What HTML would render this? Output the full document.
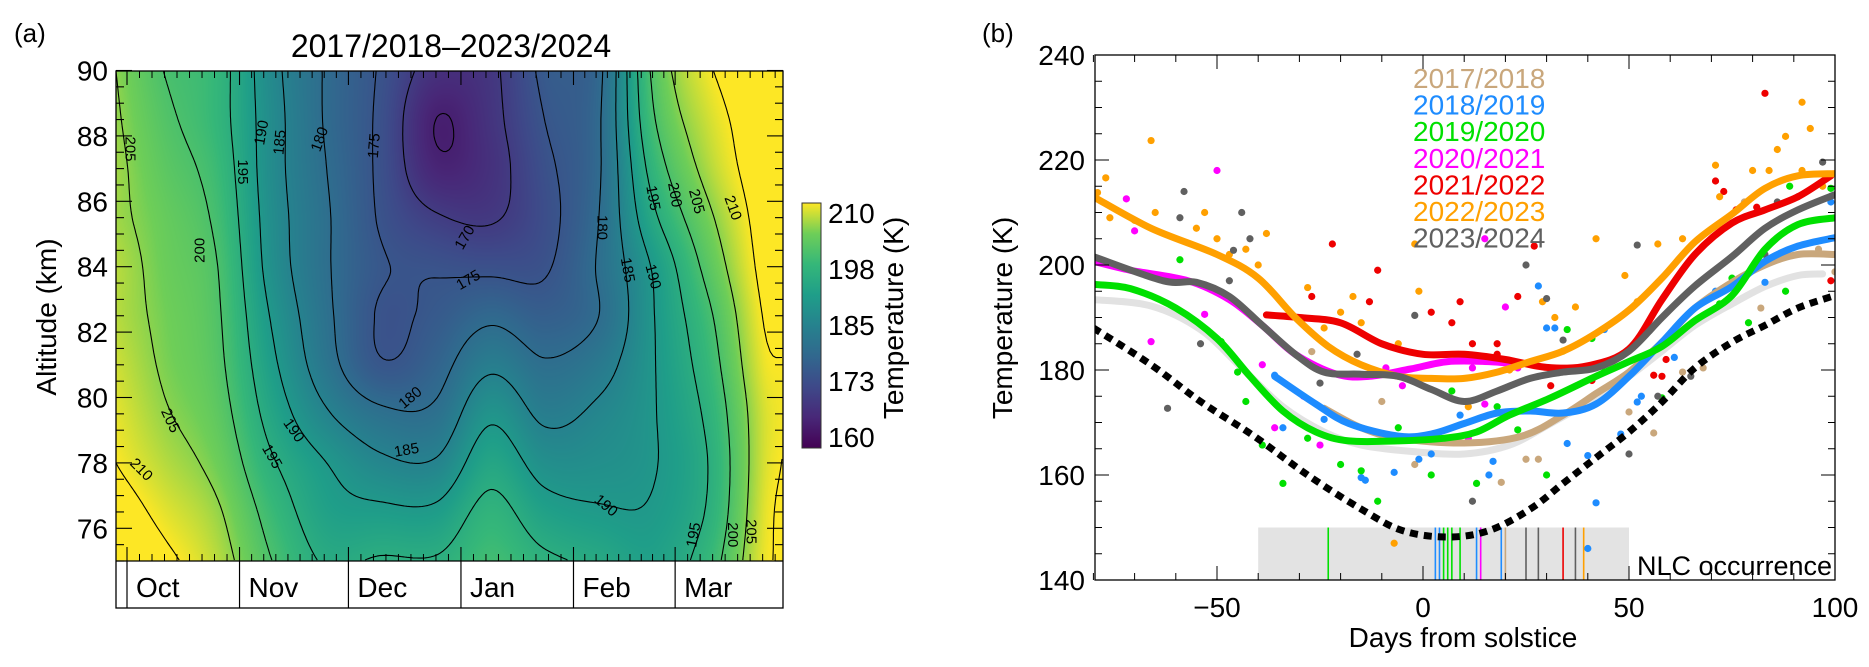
<!DOCTYPE html>
<html><head><meta charset="utf-8">
<style>
html,body{margin:0;padding:0;background:#fff;}
#wrap{position:relative;width:1869px;height:667px;overflow:hidden;font-family:"Liberation Sans",sans-serif;}
#heat{position:absolute;left:116px;top:71px;}
#svg{position:absolute;left:0;top:0;}
text{font-family:"Liberation Sans",sans-serif;}
</style></head>
<body>
<div id="wrap">
<canvas id="heat" width="667" height="490"></canvas>
<svg id="svg" width="1869" height="667" xmlns="http://www.w3.org/2000/svg">
<defs>
<linearGradient id="vir" x1="0" y1="1" x2="0" y2="0">
<stop offset="0" stop-color="#440154"/><stop offset="0.125" stop-color="#482878"/><stop offset="0.25" stop-color="#3e4989"/><stop offset="0.375" stop-color="#31688e"/><stop offset="0.5" stop-color="#26828e"/><stop offset="0.625" stop-color="#1f9e89"/><stop offset="0.75" stop-color="#35b779"/><stop offset="0.875" stop-color="#6ece58"/><stop offset="1" stop-color="#fde725"/>
</linearGradient>
<clipPath id="clipL"><rect x="116" y="71" width="667" height="490"/></clipPath>
<clipPath id="clipR"><rect x="1095" y="55" width="740" height="525"/></clipPath>
</defs>
<text x="14" y="42" font-size="26">(a)</text>
<text x="451" y="57" font-size="32" text-anchor="middle">2017/2018–2023/2024</text>
<g id="contours" clip-path="url(#clipL)"></g>
<g id="clabels"></g>
<g id="leftAxes"></g>
<text transform="translate(56,317) rotate(-90)" font-size="28" text-anchor="middle">Altitude (km)</text>
<rect x="802" y="203" width="19" height="245" fill="url(#vir)" stroke="#333" stroke-width="1"/>
<g id="cbar"></g>
<text transform="translate(903,318) rotate(-90)" font-size="28" text-anchor="middle">Temperature (K)</text>

<text x="982" y="42" font-size="26">(b)</text>
<g id="rplot" clip-path="url(#clipR)"></g>
<g id="rightAxes"></g>
<text transform="translate(1012,318) rotate(-90)" font-size="28" text-anchor="middle">Temperature (K)</text>
<text x="1463" y="647" font-size="28" text-anchor="middle">Days from solstice</text>
<text x="1637" y="575" font-size="27">NLC occurrence</text>
<g id="legend"></g>
</svg>
</div>
<script>
// ---------- Panel (a) data ----------
const gridDays=[-3,10,25,40,55,70,85,100,115,130,145,160,175,182];
const gridAlts=[75,76.5,78,79.5,81,82.5,84,85.5,87,88.5,90];
const tempCols=[
[213,212,210,209,208,207,207,206,206,205.5,205],
[211,209,207,205.5,204.5,204,203.5,203,202,201,200],
[207,205.5,203.5,202,201,200.5,200,199,198,197,197],
[200,198,195.5,193,191,189.5,188,187.5,187,187,186.5],
[194.5,192,190,185.5,182,181,180.5,180.5,180,179.5,179.5],
[195.5,191,186,181,175.4,174.6,175.4,174.5,174,174,174.5],
[195.5,191,185.5,181,178,176,174.5,170.5,166,165,168],
[199,196.5,193,189,184,179,174,169.5,168,168.5,169],
[196,192,188,184,180.5,177,174.5,173.5,174,175,176],
[194,190.5,188,186,183,180,180.5,180,179.5,179.5,179],
[192,190.5,189.7,189.7,189.7,189.8,190.5,194,197,199.5,201],
[197.5,195.5,195,196,197.5,199,201.5,204,206.5,208,209.5],
[209,208.5,208,208,209,210,211,211.5,212,212,212],
[210.5,211,210.5,210,210,211,212,212,212.5,212.5,212.5]];
const contourLevels=[165,170,175,180,185,190,195,200,205,210];
const monthNames=["Oct","Nov","Dec","Jan","Feb","Mar"];
const monthStarts=[0,31,61,92,123,151];
const altTicks=[76,78,80,82,84,86,88,90];
const cbarLabels=["210","198","185","173","160"];
const contourLabelText=["205","195","190","185","180","175","200","170","175","180","195","200","205","210","185","190","180","185","190","195","205","210","190","195","200","205"];
const contourLabelDay=[1,32,37,42,53,68,20,93,94,131,145,151,157,167,138,145,78,77,46,40,12,4,132,156,167,172];
const contourLabelAlt=[87.6,86.9,88.1,87.8,87.9,87.7,84.5,84.9,83.6,85.2,86.1,86.2,86.0,85.8,83.9,83.7,80.0,78.4,79.0,78.2,79.3,77.8,76.7,75.8,75.8,75.9];
const contourLabelRot=[90,90,-80,-85,-70,-85,-90,-60,-30,90,80,80,75,70,80,75,-40,-10,55,60,65,45,40,-80,90,90];

// ---------- Panel (b) data ----------
const legendYears=["2017/2018","2018/2019","2019/2020","2020/2021","2021/2022","2022/2023","2023/2024"];
const seriesColors=["#c9a77c","#1e8cff","#00e000","#ff00ff","#ee0000","#ffa000","#606060"];
const tanDays=[-24,-15,-6,10,24,34,42,50,58,66,75,83,91,100];
const tanTemps=[172.7,169,167,166.1,167.4,171.4,175.5,179.6,185.3,191.8,196.7,200,202,202];
const blueDays=[-36,-26,-18,-6,2,10,18,26,34,42,50,58,66,75,83,91,100];
const blueTemps=[178.8,173.5,169.8,167.4,167.8,169.8,171.8,172.2,171.8,173.5,178.8,185.3,191.8,195.9,200.7,203.6,205.2];
const greenDays=[-80,-71,-60,-50,-42,-34,-26,-18,-6,5,13,21,31,42,50,58,66,75,83,91,100];
const greenTemps=[196.3,195.5,191.8,186,178.8,172.2,168.2,166.5,166.5,167,168.2,171.4,174.7,178.8,181.6,184.5,189.4,194.2,203,207.7,209];
const magentaDays=[-80,-71,-57,-47,-39,-31,-21,-13,-3,6,16,22];
const magentaTemps=[200.7,199,197,193.4,188.5,183,179.2,178.8,180.2,181.6,181.6,181.2];
const redDays=[-38,-30,-20,-10,0,10,20,30,40,50,58,66,75,83,91,99];
const redTemps=[190.5,190,189,185,183,183,182,180.5,180.8,184,193.4,202,208,210.5,213,217];
const orangeDays=[-80,-66,-50,-40,-31,-23,-15,-6,2,10,18,26,34,42,50,58,66,75,83,91,100];
const orangeTemps=[213,207,202,197.5,190,184.5,181,178.8,178.4,178.4,179.6,181.6,183.6,187,191.4,197.5,204.4,209.7,214.6,217,217.4];
const grayDays=[-80,-63,-55,-47,-39,-31,-24,-15,-6,2,10,18,26,34,42,50,58,66,75,83,91,100];
const grayTemps=[201.6,197,196.7,194,188.5,183,179.6,179.2,178.8,176.3,174,176,178.4,179.6,180.4,183.6,190,196,201.6,207,210.5,213.4];
const meanDays=[-80,-66,-54,-44,-34,-24,-15,-3,10,21,31,42,50,58,66,75,83,91,97];
const meanTemps=[193.4,192.2,187.7,180.4,173,168.2,165.7,164.5,164,165.7,169.8,174.7,178.8,183.6,188.5,192.6,195.9,198,198.3];
const frostDays=[-80,-66,-54,-41,-28,-15,-5,6,16,26,34,42,50,58,66,75,83,91,100];
const frostTemps=[188,181,174,167.4,160,153.5,149.4,148.2,149.4,153.5,158.4,163.3,168.2,173.9,180.4,185.3,188.5,191.8,194.2];
// scatter points
const tanDotDays=[-27,-10,-2,11,19,25,28,50,63,68,78,82,56,100,96];
const tanDotTemps=[183.5,174,162,166.5,158.6,163,163,172,179.6,180.4,212,191.8,168,198.7,203];
const blueDotDays=[-36,-34,-24,-15,-14,-7,-1,2,9,16,17,28,30,32,35,40,42,44,48,52,53,61,71,82,83,40,99];
const blueDotTemps=[179,169,170.6,159.5,159,160.5,163,164,171.4,160,162.6,196,188,188,166,163.7,154.7,187.7,167.8,173.9,175,182.4,195,200,196.7,146,212];
const greenDotDays=[-45,-43,-39,-34,-28,-20,-15,-11,-6,2,7,13,18,23,30,34,35,41,44,58,72,79,75,89,88,99,-59,-49];
const greenDotTemps=[179.6,174,165.7,158.4,167,162,160.8,155,169,160,176,158.4,173,168.6,160,183.6,187.7,186,179.6,174.7,192.6,189,197.5,215,195,214.6,201,185.4];
const magentaDotDays=[-50,-72,-70,-66,-53,-39,-36,-29,-16,-9,-5,11,12,15,20,23,15,-25];
const magentaDotTemps=[218,212.6,206.5,185.4,190.6,181,169,175,179,180.4,177,167,180.4,173.5,192,180.4,205,165.7];
const redDotDays=[-22,-27,-11,-13,2,7,9,12,23,27,18,31,59,58,71,73,76,83,99,81,18,41,56];
const redDotTemps=[204,194,199,193,191,189,193,185,194,203.6,185,177,182,178.8,216,214,210.5,232.7,197,211,183,178,179];
const orangeDotDays=[-79,-77,-66,-76,-70,-65,-55,-53,-50,-47,-43,-38,-40,-28,-24,-20,-17,-15,-6,-1,-7,-2,11,21,29,32,37,42,49,52,57,63,71,72,80,84,86,88,92,94,92,97];
const orangeDotTemps=[213.8,216.6,223.7,209,208.5,210,207,210,205,202,203,206,200,195.7,188,191,194,189,185,195,147,204,173,180,193,190,192,205,198,193,204,205,219,213,218,218,222,224.5,231,226,218,215];
const grayDotDays=[-62,-58,-44,-42,-46,-59,-47,-54,-25,-16,-2,12,25,30,34,52,57,50,65,91,97,86,83];
const grayDotTemps=[172.7,214,210,205,202.8,209,197,185,177.5,183,190.4,155,200,193.6,185.7,203.8,175,164,178.8,213,219.6,212,202];
const nlcDays=[-23,3,4,5,6,7,9,13,14,19,20,25,28,34,37,39];
const nlcColorIdx=[2,1,1,2,2,2,2,1,3,1,0,6,6,4,6,5];
const tempTicks=[140,160,180,200,220,240];
const dayTicks=[-50,0,50,100];

const NS="http://www.w3.org/2000/svg";
function mk(tag,attrs,parent){const e=document.createElementNS(NS,tag);for(const k in attrs)e.setAttribute(k,attrs[k]);parent.appendChild(e);return e;}

// ---------- Panel (a) scales ----------
const xL=d=>127+d*3.63;
const yL=a=>561-(a-75)*32.7;
// separable cubic (Catmull-Rom/Hermite, nonuniform knots)
function interp1(xs,vs,x){
  const n=xs.length;
  if(x<=xs[0])return vs[0]; if(x>=xs[n-1])return vs[n-1];
  let i=0; while(i<n-2&&x>xs[i+1])i++;
  const h=xs[i+1]-xs[i], t=(x-xs[i])/h;
  const m=j=>{if(j<=0)return (vs[1]-vs[0])/(xs[1]-xs[0]); if(j>=n-1)return (vs[n-1]-vs[n-2])/(xs[n-1]-xs[n-2]); return (vs[j+1]-vs[j-1])/(xs[j+1]-xs[j-1]);};
  const t2=t*t,t3=t2*t;
  return (2*t3-3*t2+1)*vs[i]+(t3-2*t2+t)*h*m(i)+(-2*t3+3*t2)*vs[i+1]+(t3-t2)*h*m(i+1);
}
const W=667,H=490;
const field=new Float32Array(W*H);
(function(){
  const nA=gridAlts.length;
  const rowVals=[];
  for(let r=0;r<nA;r++){
    const rv=tempCols.map(c=>c[r]);
    const arr=new Float32Array(W);
    for(let px=0;px<W;px++){const d=(px+116-127)/3.63;arr[px]=interp1(gridDays,rv,d);}
    rowVals.push(arr);
  }
  for(let px=0;px<W;px++){
    const col=rowVals.map(a=>a[px]);
    for(let py=0;py<H;py++){const a=75+(561-(py+71))/32.7;field[py*W+px]=interp1(gridAlts,col,a);}
  }
})();
const vir=[[68,1,84],[72,40,120],[62,73,137],[49,104,142],[38,130,142],[31,158,137],[53,183,121],[110,206,88],[253,231,37]];
function vcol(v){let t=(v-160)/50;t=Math.max(0,Math.min(1,t));const s=t*8,i=Math.min(7,Math.floor(s)),f=s-i;return vir[i].map((c,k)=>c+(vir[i+1][k]-c)*f);}
(function(){
  const ctx=document.getElementById('heat').getContext('2d');
  const img=ctx.createImageData(W,H);
  for(let i=0;i<W*H;i++){const c=vcol(field[i]);img.data[i*4]=c[0];img.data[i*4+1]=c[1];img.data[i*4+2]=c[2];img.data[i*4+3]=255;}
  ctx.putImageData(img,0,0);
})();
// contours (marching squares)
(function(){
  const g=document.getElementById('contours');
  const S=3,nx=Math.floor((W-1)/S),ny=Math.floor((H-1)/S);
  const f=(i,j)=>field[Math.min(H-1,j*S)*W+Math.min(W-1,i*S)];
  contourLevels.forEach(L=>{
    let d="";
    for(let j=0;j<ny;j++)for(let i=0;i<nx;i++){
      const v=[f(i,j),f(i+1,j),f(i+1,j+1),f(i,j+1)];
      const p=[[i,j],[i+1,j],[i+1,j+1],[i,j+1]];
      const pts=[];
      for(let e=0;e<4;e++){const a=v[e],b=v[(e+1)%4];if((a<L)!==(b<L)){const t=(L-a)/(b-a);const pa=p[e],pb=p[(e+1)%4];pts.push([116+(pa[0]+(pb[0]-pa[0])*t)*S,71+(pa[1]+(pb[1]-pa[1])*t)*S]);}}
      for(let k=0;k+1<pts.length;k+=2)d+="M"+pts[k][0].toFixed(1)+","+pts[k][1].toFixed(1)+"L"+pts[k+1][0].toFixed(1)+","+pts[k+1][1].toFixed(1);
    }
    const path=mk('path',{d:d,fill:'none',stroke:'#000','stroke-width':1.1},g);
    
    
  });
})();
// contour labels
(function(){
  const g=document.getElementById('clabels');
  contourLabelText.forEach((t,i)=>{
    const x=xL(contourLabelDay[i]),y=yL(contourLabelAlt[i]);
    const el=mk('text',{x:0,y:5,'font-size':15,'text-anchor':'middle',transform:`translate(${x.toFixed(1)},${y.toFixed(1)}) rotate(${contourLabelRot[i]})`},g);
    el.textContent=t;
    
    
  });
})();
// left axes
(function(){
  const g=document.getElementById('leftAxes');
  mk('rect',{x:116,y:71,width:667,height:537,fill:'none',stroke:'#000','stroke-width':1.3},g);
  mk('line',{x1:116,y1:561,x2:783,y2:561,stroke:'#000','stroke-width':1.3},g);
  for(let a=75;a<=90.001;a+=0.5){
    const y=yL(a),major=Math.abs(a-Math.round(a/2)*2)<0.01;
    const len=major?16:8;
    mk('line',{x1:116,y1:y,x2:116+len,y2:y,stroke:'#000','stroke-width':1.1},g);
    mk('line',{x1:783,y1:y,x2:783-len,y2:y,stroke:'#000','stroke-width':1.1},g);
  }
  altTicks.forEach(a=>{const t=mk('text',{x:108,y:yL(a)+10,'font-size':28,'text-anchor':'end'},g);t.textContent=a;
    
    });
  const ends=monthStarts.concat([181]);
  for(let m=0;m<monthStarts.length;m++){
    const x0=xL(monthStarts[m]);
    mk('line',{x1:x0,y1:561,x2:x0,y2:608,stroke:'#000','stroke-width':1.2},g);
    mk('line',{x1:x0,y1:561,x2:x0,y2:547,stroke:'#000','stroke-width':1.1},g);
    mk('line',{x1:x0,y1:71,x2:x0,y2:85,stroke:'#000','stroke-width':1.1},g);
    const len=(monthStarts[m+1]!==undefined?monthStarts[m+1]:monthStarts[m]+31)-monthStarts[m];
    for(let k=1;k<9;k++){const d=monthStarts[m]+len*k/9;if(d>181)break;const x=xL(d);
      mk('line',{x1:x,y1:561,x2:x,y2:554,stroke:'#000','stroke-width':1},g);
      mk('line',{x1:x,y1:71,x2:x,y2:78,stroke:'#000','stroke-width':1},g);}
    const t=mk('text',{x:x0+9,y:597,'font-size':28},g);t.textContent=monthNames[m];
    
    
  }
  for(let k=5;k<9;k++){const x=xL(-31*k/9+0);if(x>116){mk('line',{x1:x,y1:561,x2:x,y2:554,stroke:'#000'},g);}}
  const cb=document.getElementById('cbar');
  cbarLabels.forEach((s,i)=>{const t=mk('text',{x:828,y:223+i*56,'font-size':28},cb);t.textContent=s;
    
    });
})();

// ---------- Panel (b) ----------
const xR=d=>1423+d*4.12;
const yR=t=>580-(t-140)*5.25;
function splinePath(ds,ts){
  const P=ds.map((d,i)=>[xR(d),yR(ts[i])]);
  let s="M"+P[0][0].toFixed(1)+","+P[0][1].toFixed(1);
  for(let i=0;i<P.length-1;i++){
    const p0=P[Math.max(0,i-1)],p1=P[i],p2=P[i+1],p3=P[Math.min(P.length-1,i+2)];
    const c1=[p1[0]+(p2[0]-p0[0])/6,p1[1]+(p2[1]-p0[1])/6],c2=[p2[0]-(p3[0]-p1[0])/6,p2[1]-(p3[1]-p1[1])/6];
    s+="C"+c1.map(v=>v.toFixed(1)).join(",")+" "+c2.map(v=>v.toFixed(1)).join(",")+" "+p2[0].toFixed(1)+","+p2[1].toFixed(1);
  }
  return s;
}
(function(){
  const g=document.getElementById('rplot');
  const box=mk('rect',{x:xR(-40),y:yR(150),width:xR(50)-xR(-40),height:yR(140)-yR(150),fill:'#e3e3e3'},g);
  
  
  nlcDays.forEach((d,i)=>{const l=mk('line',{x1:xR(d),y1:yR(150),x2:xR(d),y2:yR(140),stroke:seriesColors[nlcColorIdx[i]],'stroke-width':1.6},g);
    
    });
  const mean=mk('path',{d:splinePath(meanDays,meanTemps),fill:'none',stroke:'#e2e2e2','stroke-width':7,'stroke-linecap':'round'},g);
  
  
  const dots=[[tanDotDays,tanDotTemps],[blueDotDays,blueDotTemps],[greenDotDays,greenDotTemps],[magentaDotDays,magentaDotTemps],[redDotDays,redDotTemps],[orangeDotDays,orangeDotTemps],[grayDotDays,grayDotTemps]];
  dots.forEach((s,k)=>{s[0].forEach((d,i)=>{const c=mk('circle',{cx:xR(d),cy:yR(s[1][i]),r:3.6,fill:seriesColors[k]},g);
    
    });});
  const fr=mk('path',{d:splinePath(frostDays,frostTemps),fill:'none',stroke:'#000','stroke-width':7,'stroke-dasharray':'8 6'},g);
  
  
  const curves=[[tanDays,tanTemps],[blueDays,blueTemps],[greenDays,greenTemps],[magentaDays,magentaTemps],[redDays,redTemps],[orangeDays,orangeTemps],[grayDays,grayTemps]];
  curves.forEach((c,k)=>{const p=mk('path',{d:splinePath(c[0],c[1]),fill:'none',stroke:seriesColors[k],'stroke-width':7,'stroke-linecap':'round'},g);
    
    });
  const ax=document.getElementById('rightAxes');
  mk('rect',{x:1095,y:55,width:740,height:525,fill:'none',stroke:'#000','stroke-width':1.3},ax);
  for(let t=140;t<=240;t+=5){const y=yR(t),len=t%20===0?14:7;
    mk('line',{x1:1095,y1:y,x2:1095+len,y2:y,stroke:'#000'},ax);
    mk('line',{x1:1835,y1:y,x2:1835-len,y2:y,stroke:'#000'},ax);}
  for(let d=-80;d<=100;d+=10){const x=xR(d),len=d%50===0?14:7;
    mk('line',{x1:x,y1:580,x2:x,y2:580-len,stroke:'#000'},ax);
    mk('line',{x1:x,y1:55,x2:x,y2:55+len,stroke:'#000'},ax);}
  tempTicks.forEach(t=>{const e=mk('text',{x:1085,y:yR(t)+10,'font-size':28,'text-anchor':'end'},ax);e.textContent=t;
    
    });
  dayTicks.forEach(d=>{const e=mk('text',{x:xR(d),y:617,'font-size':28,'text-anchor':'middle'},ax);e.textContent=d<0?'−'+(-d):d;
    
    });
  const lg=document.getElementById('legend');
  legendYears.forEach((s,i)=>{const e=mk('text',{x:1413,y:88+i*26.6,'font-size':28,fill:seriesColors[i]},lg);e.textContent=s;
    
    });
})();
</script>
</body></html>
